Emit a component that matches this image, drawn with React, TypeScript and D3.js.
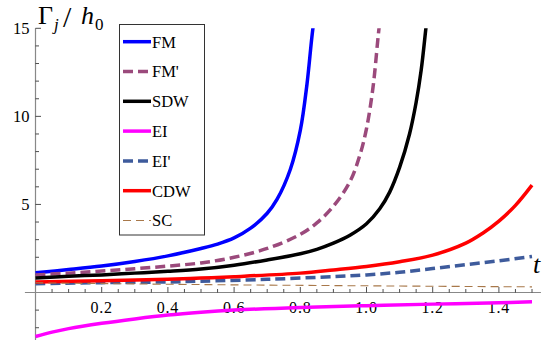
import React, { useEffect, useRef } from 'react';
import * as d3 from 'd3';

// values, t on x, Gamma_j/h0 on y
const fmT = [0, 0.1, 0.2, 0.3, 0.4, 0.5, 0.55, 0.6, 0.65, 0.7, 0.73, 0.77, 0.8, 0.82, 0.835, 0.848];
const fmV = [1.12, 1.3, 1.5, 1.76, 2.08, 2.5, 2.75, 3.1, 3.65, 4.5, 5.3, 7.0, 9.2, 11.8, 14.5, 16.5];

const fmpT = [0, 0.1, 0.2, 0.3, 0.4, 0.5, 0.6, 0.7, 0.8, 0.85, 0.9, 0.95, 0.98, 1.0, 1.02, 1.035, 1.048];
const fmpV = [1.0, 1.1, 1.22, 1.35, 1.5, 1.68, 2.0, 2.5, 3.3, 3.95, 4.9, 6.3, 7.8, 9.3, 11.7, 14.5, 16.8];

const sdwT = [0, 0.1, 0.2, 0.3, 0.4, 0.5, 0.6, 0.7, 0.8, 0.85, 0.9, 0.95, 1.0, 1.04, 1.07, 1.1, 1.13, 1.15, 1.165, 1.18, 1.19];
const sdwV = [0.83, 0.92, 1.0, 1.1, 1.2, 1.33, 1.55, 1.85, 2.2, 2.45, 2.8, 3.25, 3.9, 4.75, 5.7, 7.1, 9.0, 10.8, 12.6, 15.1, 16.8];

const eiT = [0, 0.05, 0.1, 0.2, 0.3, 0.4, 0.5, 0.6, 0.8, 1.0, 1.2, 1.4, 1.5];
const eiV = [-2.5, -2.25, -2.05, -1.75, -1.5, -1.28, -1.12, -1.0, -0.85, -0.75, -0.66, -0.58, -0.53];

const eipT = [0, 0.2, 0.4, 0.5, 0.7, 0.9, 1.0, 1.1, 1.2, 1.3, 1.4, 1.5];
const eipV = [0.5, 0.56, 0.6, 0.64, 0.75, 0.9, 1.0, 1.15, 1.36, 1.58, 1.8, 2.05];

const cdwT = [0, 0.2, 0.4, 0.5, 0.6, 0.8, 0.9, 1.0, 1.1, 1.2, 1.3, 1.35, 1.4, 1.45, 1.5];
const cdwV = [0.6, 0.67, 0.75, 0.82, 0.9, 1.1, 1.28, 1.48, 1.75, 2.12, 2.8, 3.35, 4.05, 4.95, 6.1];

const scT = [0, 0.5, 1.0, 1.5];
const scV = [0.55, 0.45, 0.38, 0.32];

const seriesNames = ['FM', "FM'", 'SDW', 'EI', "EI'", 'CDW', 'SC'];
const seriesColors = ['#0000ff', '#9b4a7c', '#000000', '#ff00ff', '#3e5b9c', '#ff0000', '#a8784a'];
const seriesDash = [null, '10,5', null, null, '10,5', null, '8,5'];
const seriesWidth = [3.5, 3.5, 3.5, 3.5, 3.5, 3.5, 1.1];

const xTickLabels = [0.2, 0.4, 0.6, 0.8, 1.0, 1.2, 1.4];
const yTickLabels = [5, 10, 15];

const W = 546;
const H = 349;
const SERIF = 'Liberation Serif, DejaVu Serif, serif';

export default function App() {
  const ref = useRef<SVGSVGElement>(null);

  useEffect(() => {
    document.body.style.margin = '0';
    const svg = d3.select(ref.current);
    svg.selectAll('*').remove();

    const x = d3.scaleLinear().domain([0, 1.5]).range([35.5, 532]);
    const y = d3.scaleLinear().domain([0, 15]).range([292.5, 28.3]);

    const data = [
      [fmT, fmV], [fmpT, fmpV], [sdwT, sdwV], [eiT, eiV], [eipT, eipV], [cdwT, cdwV], [scT, scV],
    ].map(([ts, vs]) => ts.map((t, i) => [t, vs[i]] as [number, number]));

    // axes
    const axisColor = '#888';
    svg.append('line')
      .attr('x1', x(-0.032)).attr('x2', x(1.527))
      .attr('y1', y(0)).attr('y2', y(0))
      .attr('stroke', axisColor).attr('stroke-width', 1.2);
    svg.append('line')
      .attr('x1', x(0)).attr('x2', x(0))
      .attr('y1', y(15)).attr('y2', y(-2.7))
      .attr('stroke', axisColor).attr('stroke-width', 1.2);

    // x ticks, major every 0.2 and minor every 0.05
    const xMinor = d3.range(1, 31).map(i => i * 0.05);
    svg.append('g').selectAll('line').data(xMinor).enter().append('line')
      .attr('x1', d => x(d)).attr('x2', d => x(d))
      .attr('y1', y(0))
      .attr('y2', (d, i) => (i + 1) % 4 === 0 ? y(0) - 5.5 : y(0) - 3.5)
      .attr('stroke', '#222').attr('stroke-width', 0.8);
    svg.append('g').selectAll('text').data(xTickLabels).enter().append('text')
      .attr('x', d => x(d)).attr('y', 312.5)
      .attr('text-anchor', 'middle')
      .attr('font-family', SERIF)
      .attr('font-size', 16)
      .attr('letter-spacing', 0.8)
      .text(d => d.toFixed(1));

    // y ticks, major every 5 and minor every 1
    const yMinor = d3.range(-2, 16);
    svg.append('g').selectAll('line').data(yMinor.filter(d => d !== 0)).enter().append('line')
      .attr('x1', x(0)).attr('y1', d => y(d)).attr('y2', d => y(d))
      .attr('x2', d => d % 5 === 0 ? x(0) + 5.5 : x(0) + 3.5)
      .attr('stroke', '#222').attr('stroke-width', 0.8);
    svg.append('g').selectAll('text').data(yTickLabels).enter().append('text')
      .attr('x', 29.5).attr('y', d => y(d) + 5.5)
      .attr('text-anchor', 'end')
      .attr('font-family', SERIF)
      .attr('font-size', 16.5)
      .text(d => d);

    // curves
    svg.append('defs').append('clipPath').attr('id', 'plotClip')
      .append('rect').attr('x', 0).attr('y', y(15)).attr('width', W).attr('height', H);
    const line = d3.line<[number, number]>()
      .x(d => x(d[0])).y(d => y(d[1]))
      .curve(d3.curveCatmullRom.alpha(0.5));
    const curves = svg.append('g').attr('clip-path', 'url(#plotClip)');
    data.forEach((pts, i) => {
      curves.append('path')
        .attr('d', line(pts))
        .attr('fill', 'none')
        .attr('stroke', seriesColors[i])
        .attr('stroke-width', seriesWidth[i])
        .attr('stroke-dasharray', seriesDash[i])
        .attr('stroke-linejoin', 'round');
    });

    // legend
    const lg = svg.append('g');
    lg.append('rect')
      .attr('x', 119.5).attr('y', 24.5).attr('width', 85).attr('height', 210.5)
      .attr('fill', 'white').attr('stroke', '#333').attr('stroke-width', 1);
    seriesNames.forEach((name, i) => {
      const ly = 41.7 + i * 29.8;
      lg.append('line')
        .attr('x1', 123).attr('x2', 151).attr('y1', ly).attr('y2', ly)
        .attr('stroke', seriesColors[i])
        .attr('stroke-width', seriesWidth[i])
        .attr('stroke-dasharray', seriesDash[i]);
      lg.append('text')
        .attr('x', 152).attr('y', ly + 5.8)
        .attr('font-family', SERIF)
        .attr('font-size', 16.5)
        .text(name);
    });

    // axis labels
    const yl = svg.append('text')
      .attr('font-family', SERIF)
      .attr('font-size', 26);
    yl.append('tspan').attr('x', 38).attr('y', 24).text('Γ');
    yl.append('tspan').attr('x', 54).attr('y', 30).attr('font-size', 17).attr('font-style', 'italic').text('j');
    yl.append('tspan').attr('x', 63).attr('y', 27).attr('font-size', 30).text('/');
    yl.append('tspan').attr('x', 81).attr('y', 24).attr('font-style', 'italic').text('h');
    yl.append('tspan').attr('x', 95).attr('y', 30).attr('font-size', 17).text('0');

    svg.append('text')
      .attr('x', 533).attr('y', 273)
      .attr('font-family', SERIF)
      .attr('font-size', 26)
      .attr('font-style', 'italic')
      .text('t');
  }, []);

  return (
    <svg ref={ref} width={W} height={H} style={{ display: 'block', background: 'white' }} />
  );
}
